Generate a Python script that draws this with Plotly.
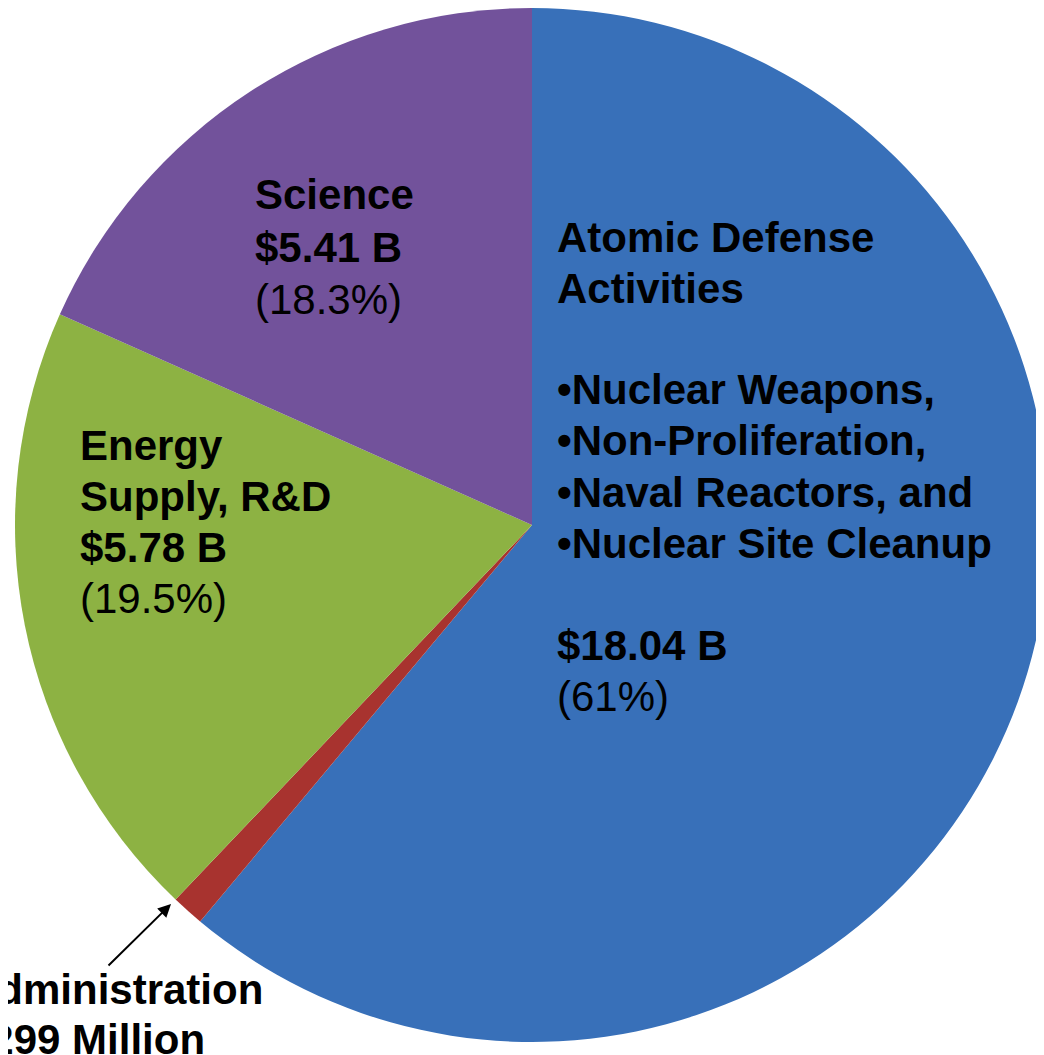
import plotly.graph_objects as go

# DOE budget split (billions of dollars)
categories = ["Atomic Defense Activities", "Administration", "Energy Supply, R&D", "Science"]
values = [18.04, 0.299, 5.78, 5.41]
colors = ["#3870B9", "#A8332F", "#8DB243", "#72529B"]

# label text, one entry per line: (text, bold)
science_lines = [("Science", True), ("$5.41 B", True), ("(18.3%)", False)]
energy_lines = [("Energy", True), ("Supply, R&D", True), ("$5.78 B", True), ("(19.5%)", False)]
atomic_lines = [("Atomic Defense", True), ("Activities", True), ("", False),
                ("•Nuclear Weapons,", True), ("•Non-Proliferation,", True),
                ("•Naval Reactors, and", True), ("•Nuclear Site Cleanup", True), ("", False),
                ("$18.04 B", True), ("(61%)", False)]
admin_lines = [("Administration", True), ("$299 Million", True)]

W, H = 1044, 1055
OFF = 8  # page body margin, the graph div sits 8px in
M = dict(l=7, r=3, t=0, b=21)
PW, PH = W - M["l"] - M["r"], H - M["t"] - M["b"]


def px(x, y):
    # window pixels -> paper coords
    return (x - OFF - M["l"]) / PW, 1 - (y - OFF - M["t"]) / PH


fig = go.Figure(go.Pie(
    labels=categories,
    values=values,
    marker=dict(colors=colors, line=dict(width=0)),
    sort=False,
    direction="clockwise",
    rotation=0,
    textinfo="none",
    hoverinfo="label+value+percent",
))

font = dict(family="Arial, Liberation Sans, sans-serif", size=42, color="#000000")
annotations = []


def add_block(lines, x, y0, step=51, anchor="left"):
    y = y0
    for text, bold in lines:
        if text:
            xp, yp = px(x, y)
            annotations.append(dict(
                x=xp, y=yp, xref="paper", yref="paper",
                text=f"<b>{text}</b>" if bold else text,
                showarrow=False, xanchor=anchor, yanchor="middle",
                font=font, align=anchor,
            ))
        y += step


add_block(science_lines, 253, 195, step=52)
add_block(energy_lines, 78, 445, step=51)
add_block(atomic_lines, 555, 237, step=51)
add_block(admin_lines[:1], 265, 989, anchor="right")
add_block(admin_lines[1:], 207, 1039, anchor="right")

# arrow pointing to the thin Administration slice
hx, hy = px(171, 904)
annotations.append(dict(
    x=hx, y=hy, xref="paper", yref="paper", text="",
    showarrow=True, arrowhead=2, arrowsize=1.3, arrowwidth=2, arrowcolor="#000000",
    ax=-64, ay=63,
))

fig.update_layout(
    width=W, height=H,
    margin=M,
    showlegend=False,
    paper_bgcolor="#FFFFFF",
    plot_bgcolor="#FFFFFF",
    annotations=annotations,
)

fig.write_html("out.html")
